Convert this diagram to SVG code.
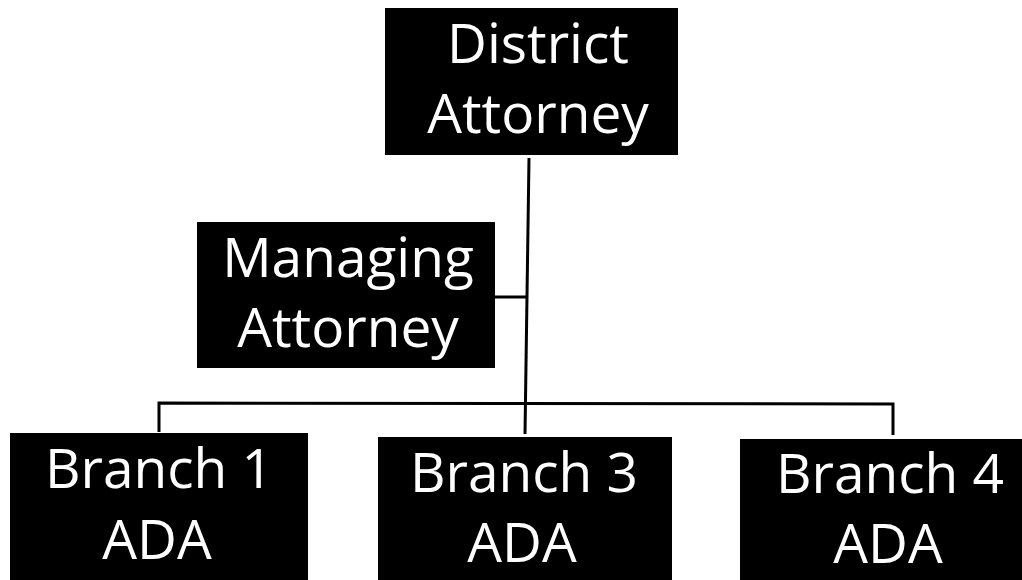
<svg xmlns="http://www.w3.org/2000/svg" width="1022" height="580" viewBox="0 0 1022 580">
<style>
.box{fill:#000}
.lbl{fill:#fff;font-family:"Open Sans","Noto Sans","Liberation Sans",sans-serif;font-size:55px;text-anchor:middle}
.conn{fill:none;stroke:#000;stroke-width:3}
</style>
<rect width="1022" height="580" fill="#fff"/>
<g id="connectors">
<path class="conn" d="M529,158 L525,434"/>
<path class="conn" d="M495,297 L528,297"/>
<path class="conn" d="M159,432 L159,403 L893,404 L893,435"/>
</g>
<g id="district-attorney">
<rect class="box" x="385" y="8" width="293" height="147"/>
<text class="lbl" x="538" y="63">District</text>
<text class="lbl" x="538" y="133">Attorney</text>
</g>
<g id="managing-attorney">
<rect class="box" x="197" y="222" width="298" height="146"/>
<text class="lbl" x="348" y="277">Managing</text>
<text class="lbl" x="348" y="347">Attorney</text>
</g>
<g id="branch-1">
<rect class="box" x="10" y="433" width="298" height="147"/>
<text class="lbl" x="159" y="488">Branch 1</text>
<text class="lbl" x="157" y="559">ADA</text>
</g>
<g id="branch-3">
<rect class="box" x="378" y="437" width="294" height="143"/>
<text class="lbl" x="524" y="492">Branch 3</text>
<text class="lbl" x="522" y="562">ADA</text>
</g>
<g id="branch-4">
<rect class="box" x="740" y="439" width="282" height="141"/>
<text class="lbl" x="890" y="493">Branch 4</text>
<text class="lbl" x="888" y="563">ADA</text>
</g>
</svg>
